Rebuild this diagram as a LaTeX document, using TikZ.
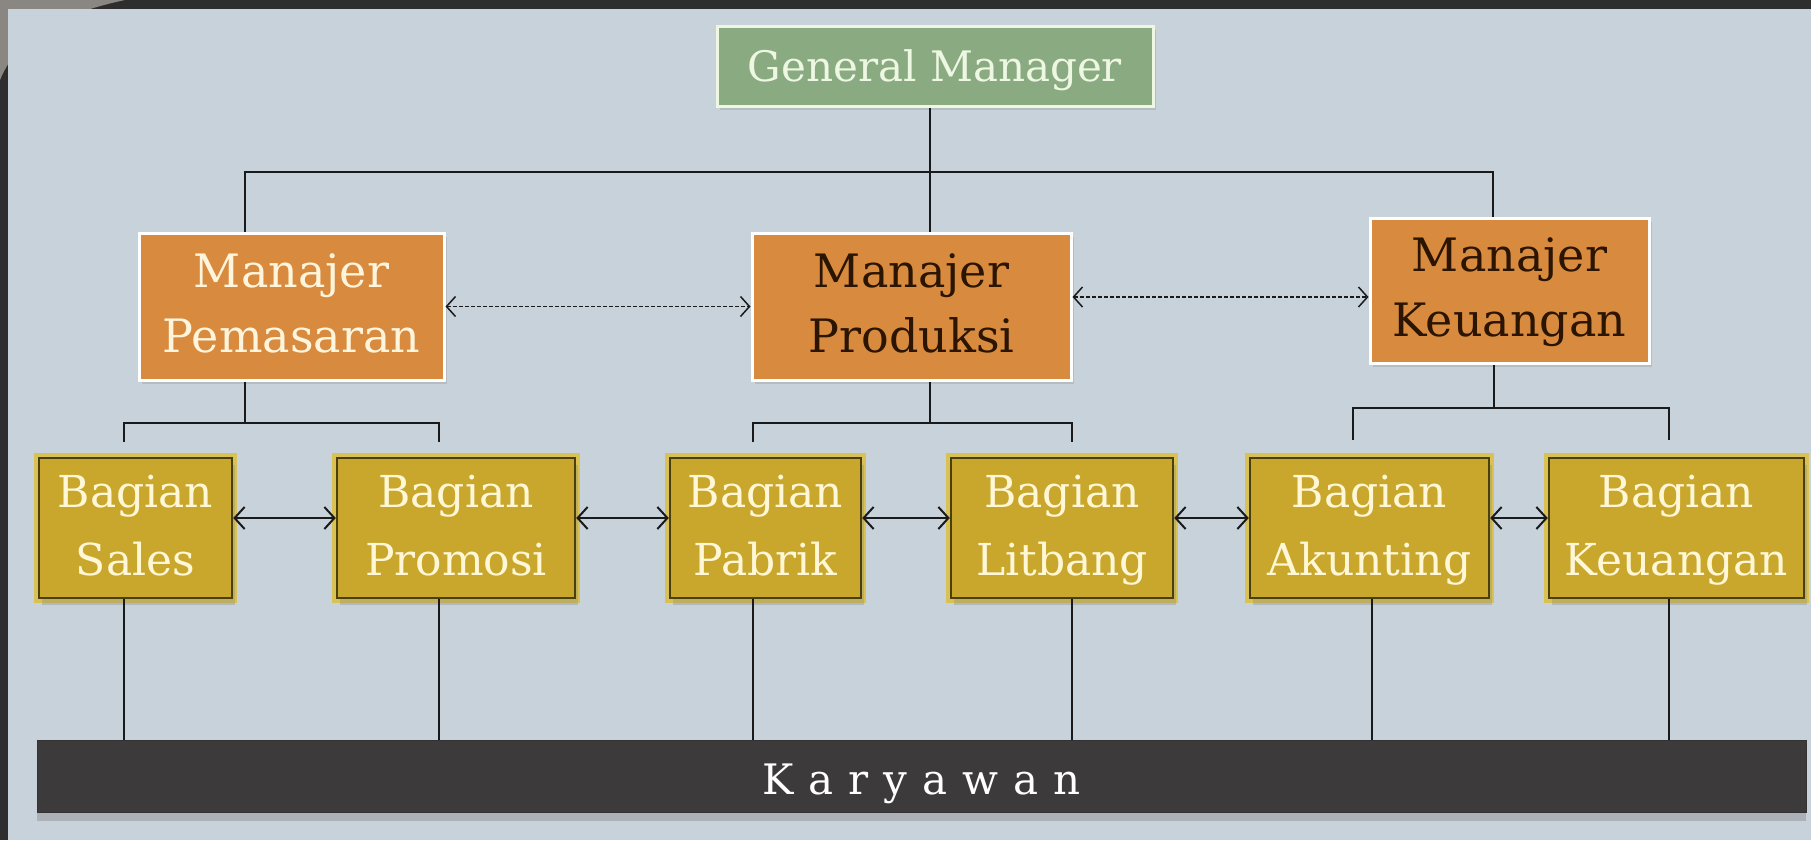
\documentclass[tikz,border=0pt]{standalone}
\usepackage{fontspec}
\setmainfont{DejaVu Serif}
\usetikzlibrary{arrows.meta,shadows}
\definecolor{frame}{HTML}{2E2E2E}
\definecolor{stone}{HTML}{8A8783}
\definecolor{panel}{HTML}{C8D2DA}
\definecolor{gmfill}{HTML}{8AAB82}
\definecolor{gmtext}{HTML}{EEF7E2}
\definecolor{mfill}{HTML}{D88B3E}
\definecolor{mtextlight}{HTML}{FFF5DC}
\definecolor{mtextdark}{HTML}{2B1400}
\definecolor{bfill}{HTML}{C9A72C}
\definecolor{bedge}{HTML}{4A3F0E}
\definecolor{bglow}{HTML}{D9C253}
\definecolor{btext}{HTML}{FFF7D6}
\definecolor{kfill}{HTML}{3C3A3A}
\definecolor{linec}{HTML}{1A1A1A}
\newcommand{\lsp}{\kern15pt}
\tikzset{
  gmbox/.style={draw=gmtext, line width=3pt, fill=gmfill, text=gmtext,
    minimum width=436pt, minimum height=80pt, inner sep=0pt,
    font=\fontsize{42}{50}\selectfont, text height=30pt, text depth=0pt,
    drop shadow={opacity=0.25, shadow xshift=3pt, shadow yshift=-3pt}},
  mbox/.style={draw=white, line width=3pt, fill=mfill, align=center, inner sep=0pt,
    minimum height=147pt, font=\fontsize{46}{65}\selectfont,
    drop shadow={opacity=0.25, shadow xshift=3pt, shadow yshift=-4pt}},
  bbox/.style={fill=bfill, draw=bedge, line width=2.5pt,
    preaction={draw=bglow, line width=10pt},
    align=center, inner sep=0pt, text=btext, minimum height=140pt,
    font=\fontsize{44}{68}\selectfont,
    drop shadow={opacity=0.3, shadow xshift=3pt, shadow yshift=-7pt}},
  kbox/.style={fill=kfill, draw=black!80, line width=1pt, text=white, inner sep=0pt,
    minimum width=1769pt, minimum height=72pt,
    font=\fontsize{42}{50}\selectfont, text height=36pt, text depth=0pt,
    drop shadow={opacity=0.4, shadow xshift=0pt, shadow yshift=-9pt}},
  conn/.style={draw=linec, line width=1.8pt},
  thin/.style={draw=linec, line width=1.3pt},
  barrow/.style={draw=linec, line width=2pt, {Straight Barb[length=10pt,width=22pt]}-{Straight Barb[length=10pt,width=22pt]}},
  darrow/.style={draw=linec, line width=1.5pt, dash pattern=on 4pt off 2pt,
    {Straight Barb[length=9pt,width=20pt]}-{Straight Barb[length=9pt,width=20pt]}}
}
\begin{document}
\begin{tikzpicture}[x=1pt,y=-1pt]
\useasboundingbox (0,0) rectangle (1811,840);
% background
\fill[frame] (0,0) rectangle (1811,840);
\fill[stone] (0,0) -- (125,0) .. controls (60,14) and (18,36) .. (0,80) -- cycle;
\fill[panel] (8,9) rectangle (1811,840);

% nodes
\node[gmbox] (gm) at (935,67) {General Manager};
\node[mbox, minimum width=305pt, text=mtextlight] (pem) at (291.5,306.5) {\strut Manajer\\\strut Pemasaran};
\node[mbox, minimum width=319pt, text=mtextdark] (prod) at (911.5,306.5) {\strut Manajer\\\strut Produksi};
\node[mbox, minimum width=279pt, minimum height=145pt, text=mtextdark] (mkeu) at (1509.5,290.5) {\strut Manajer\\\strut Keuangan};

\node[bbox, minimum width=193pt] (sales) at (135.5,528) {\strut Bagian\\\strut Sales};
\node[bbox, minimum width=238pt] (promosi) at (456,528) {\strut Bagian\\\strut Promosi};
\node[bbox, minimum width=191pt] (pabrik) at (765.5,528) {\strut Bagian\\\strut Pabrik};
\node[bbox, minimum width=222pt] (litbang) at (1062,528) {\strut Bagian\\\strut Litbang};
\node[bbox, minimum width=239pt] (akunting) at (1369.5,528) {\strut Bagian\\\strut Akunting};
\node[bbox, minimum width=255pt] (bkeu) at (1676.5,528) {\strut Bagian\\\strut Keuangan};

\node[kbox] (kar) at (921.5,776) {K\lsp a\lsp r\lsp y\lsp a\lsp w\lsp a\lsp n};

% top level connectors
\coordinate (t1) at (930,172);
\coordinate (bl) at (245,172);
\coordinate (br) at (1493,172);
\draw[conn] (gm.south -| t1) -- (prod.north -| t1);
\draw[conn] (pem.north -| bl) -- (bl) -- (br) -- (mkeu.north -| br);

% Pemasaran branch
\coordinate (pj) at (245,423);
\coordinate (pld) at (124,442);
\coordinate (prd) at (439,442);
\draw[conn] (pem.south -| pj) -- (pj);
\draw[thin] (pld) |- (pj) -| (prd);

% Produksi branch
\coordinate (qj) at (930,423);
\coordinate (qld) at (753,442);
\coordinate (qrd) at (1072,442);
\draw[thin] (prod.south -| qj) -- (qj);
\draw[thin] (qld) |- (qj) -| (qrd);

% Keuangan branch
\coordinate (kj) at (1494,408);
\coordinate (kld) at (1353,440);
\coordinate (krd) at (1669,440);
\draw[conn] (mkeu.south -| kj) -- (kj);
\draw[conn] (kld) |- (kj) -| (krd);

% dashed arrows between managers
\coordinate (dy) at (0,297);
\draw[darrow] (pem.east) -- (prod.west);
\draw[darrow] (prod.east |- dy) -- (mkeu.west |- dy);

% arrows between departments
\draw[barrow] ([yshift=10pt]sales.east) -- ([yshift=10pt]promosi.west);
\draw[barrow] ([yshift=10pt]promosi.east) -- ([yshift=10pt]pabrik.west);
\draw[barrow] ([yshift=10pt]pabrik.east) -- ([yshift=10pt]litbang.west);
\draw[barrow] ([yshift=10pt]litbang.east) -- ([yshift=10pt]akunting.west);
\draw[barrow] ([yshift=10pt]akunting.east) -- ([yshift=10pt]bkeu.west);

% lines to Karyawan
\coordinate (x1) at (124,0);
\coordinate (x2) at (439,0);
\coordinate (x3) at (753,0);
\coordinate (x4) at (1072,0);
\coordinate (x5) at (1372,0);
\coordinate (x6) at (1669,0);
\draw[thin] (sales.south -| x1) -- (kar.north -| x1);
\draw[conn] (promosi.south -| x2) -- (kar.north -| x2);
\draw[thin] (pabrik.south -| x3) -- (kar.north -| x3);
\draw[conn] (litbang.south -| x4) -- (kar.north -| x4);
\draw[conn] (akunting.south -| x5) -- (kar.north -| x5);
\draw[thin] (bkeu.south -| x6) -- (kar.north -| x6);
\end{tikzpicture}
\end{document}
